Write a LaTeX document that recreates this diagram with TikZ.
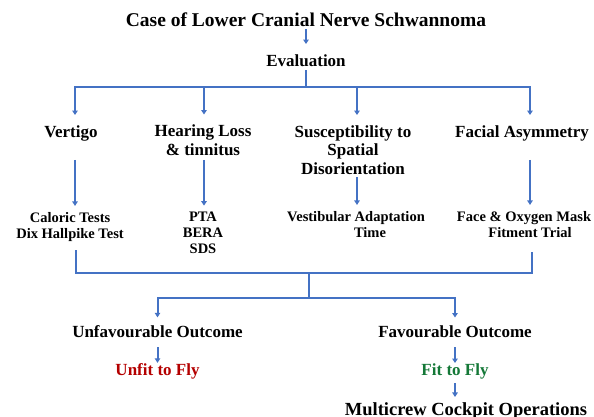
\documentclass[tikz,border=0pt]{standalone}
\usepackage{fontspec}
\setmainfont{Liberation Serif}
\usetikzlibrary{arrows.meta, positioning, calc}
\definecolor{linkblue}{RGB}{68,114,196}
\definecolor{unfitred}{RGB}{180,0,0}
\definecolor{fitgreen}{RGB}{20,120,55}

\begin{document}
\begin{tikzpicture}[x=1pt, y=-1pt,
	every node/.style={inner sep=0pt, anchor=base, align=center, font=\fontsize{17}{18.5}\selectfont\bfseries},
	testtxt/.style={font=\fontsize{14.5}{15.8}\selectfont\bfseries},
	link/.style={draw=linkblue, line width=2pt},
	arr/.style={link, -{Triangle[length=4.5pt, width=5.5pt]}}]
	\useasboundingbox (0,0) rectangle (594,416);
	
	\node [font=\fontsize{19.5}{20}\selectfont\bfseries] (case) at (306,26) {Case of Lower Cranial Nerve Schwannoma};
	\node (eval) at (306,66) {Evaluation};
	
	% findings (base = last line)
	\node (vert) at (71,137) {Vertigo};
	\node (hear) at (203,155) {Hearing Loss\\\& tinnitus};
	\node (susc) at (353,174) {Susceptibility to\\Spatial\\Disorientation};
	\node (faci) at (522,137) {Facial Asymmetry};
	
	% tests
	\node [testtxt] (calo) at (70,238) {Caloric Tests\\Dix Hallpike Test};
	\node [testtxt] (pta) at (203,253) {PTA\\BERA\\SDS};
	\node [testtxt] (vest) at (356,237) {Vestibular Adaptation\\\hspace*{28pt}Time};
	\node [testtxt] (face) at (524,237) {Face \& Oxygen Mask\\\hspace*{12pt}Fitment Trial};
	
	% outcome
	\node (unfav) at (157.5,337) {Unfavourable Outcome};
	\node (fav) at (455,337) {Favourable Outcome};
	\node [text=unfitred] (unfit) at (157.5,375) {Unfit to Fly};
	\node [text=fitgreen] (fit) at (455,375) {Fit to Fly};
	\node [font=\fontsize{18.5}{19}\selectfont\bfseries] (multi) at (466,415) {Multicrew Cockpit Operations};
	
	\draw [arr, shorten <=3pt, shorten >=10pt] (case.south) -- (eval.north);
	\coordinate (bar) at (306,87);
	\draw [link, shorten <=4pt] (eval.south) -- (bar);
	\foreach \n/\x in {b1/75, b2/204, b3/357, b4/530}
		\coordinate (\n) at (\x,87);
	\draw [link, line cap=rect] (b1) -- (b4);
	\foreach \b/\n in {b1/vert, b2/hear, b3/susc, b4/faci}
		\draw [arr, shorten >=10pt] (\b) -- (\b |- \n.north);
	\foreach \b/\m/\n/\s in {b1/vert/calo/19, b2/hear/pta/4.5, b3/susc/vest/3, b4/faci/face/19}
		\draw [arr, shorten <=\s pt, shorten >=6pt] (\b |- \m.south) -- (\b |- \n.north);
	
	\coordinate (j1) at (76,273);
	\coordinate (j2) at (532,273);
	\coordinate (jm) at (309,273);
	\coordinate (k) at (309,298);
	\draw [link, shorten <=9pt, shorten >=15pt] (j1 |- calo.south) -- (j1) -- (j2) -- (j2 |- face.south);
	\draw [link] (jm) -- (k);
	\draw [arr, shorten >=7.5pt] (k) -| (unfav.north);
	\draw [arr, shorten >=7.5pt] (k) -| (fav.north);
	\draw [arr, shorten <=10pt] (unfav.south) -- (unfit.north);
	\draw [arr, shorten <=10pt] (fav.south) -- (fit.north);
	\draw [arr, shorten <=4.5pt, shorten >=5pt] (fit.south) -- (fit.south |- multi.north);
\end{tikzpicture}
\end{document}
